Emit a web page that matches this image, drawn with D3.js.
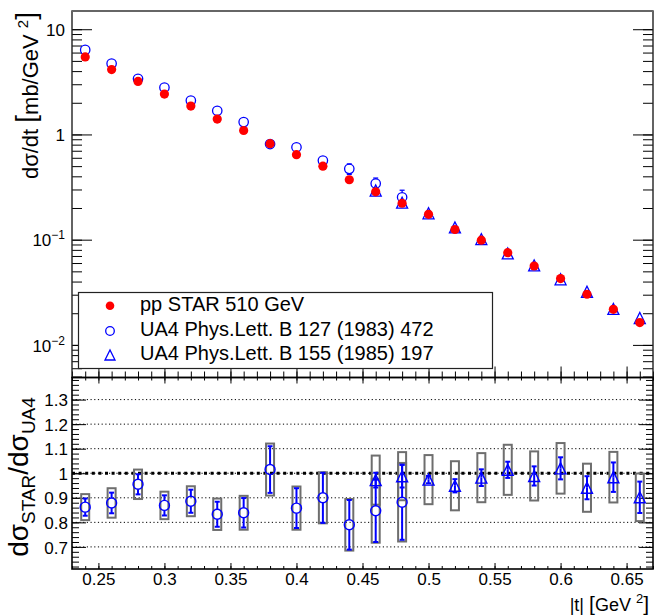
<!DOCTYPE html>
<html lang="en">
<head>
  <meta charset="UTF-8">
  <title>dsigma/dt STAR vs UA4</title>
  <script src="https://cdn.jsdelivr.net/npm/d3@7"></script>
  <style>
    body { margin: 0; background: #fff; }
  </style>
</head>
<body>
  <div id="canvas"></div>
  <script>
    // STAR pp 510 GeV, dsigma/dt [mb/GeV^2]
    const tStar = [0.24, 0.26, 0.28, 0.30, 0.32, 0.34, 0.36, 0.38, 0.40, 0.42, 0.44,
                   0.46, 0.48, 0.50, 0.52, 0.54, 0.56, 0.58, 0.60, 0.62, 0.64, 0.66];
    const starXsec = [5.46, 4.14, 3.19, 2.42, 1.86, 1.40, 1.09, 0.818, 0.643, 0.499, 0.371,
                      0.285, 0.222, 0.174, 0.125, 0.099, 0.0753, 0.0562, 0.0427, 0.0303, 0.0218, 0.0163];

    // UA4 Phys.Lett. B 127 (1983) 472
    const tUA4a = [0.24, 0.26, 0.28, 0.30, 0.32, 0.34, 0.36, 0.38, 0.40, 0.42, 0.44, 0.46, 0.48];
    const ua4aXsec = [6.36, 4.72, 3.38, 2.79, 2.10, 1.68, 1.31, 0.81, 0.755, 0.565, 0.471, 0.342, 0.253];
    const ua4aErr = [0.2, 0.19, 0.14, 0.11, 0.09, 0.08, 0.08, 0.07, 0.07, 0.057, 0.054, 0.043, 0.042];

    // UA4 Phys.Lett. B 155 (1985) 197
    const tUA4b = [0.46, 0.48, 0.50, 0.52, 0.54, 0.56, 0.58, 0.60, 0.62, 0.64, 0.66];
    const ua4bXsec = [0.293, 0.225, 0.178, 0.131, 0.101, 0.074, 0.057, 0.042, 0.032, 0.022, 0.018];
    const ua4bErr = [0.008, 0.009, 0.004, 0.004, 0.003, 0.002, 0.002, 0.0017, 0.0014, 0.0012, 0.0011];

    // ratio STAR / UA4 (stat error, syst box half height)
    const ratioA = [0.862, 0.879, 0.955, 0.869, 0.886, 0.833, 0.839, 1.015, 0.858, 0.900, 0.790, 0.847, 0.882];
    const ratioAStat = [0.035, 0.042, 0.041, 0.041, 0.047, 0.051, 0.060, 0.095, 0.081, 0.102, 0.101, 0.127, 0.153];
    const ratioASys = [0.053, 0.060, 0.060, 0.056, 0.061, 0.064, 0.069, 0.106, 0.088, 0.104, 0.105, 0.130, 0.160];
    const ratioB = [0.972, 0.988, 0.974, 0.949, 0.982, 1.014, 0.989, 1.020, 0.941, 0.984, 0.902];
    const ratioBStat = [0.030, 0.046, 0.015, 0.027, 0.034, 0.033, 0.039, 0.045, 0.047, 0.060, 0.064];
    const ratioBSys = [0.100, 0.098, 0.100, 0.100, 0.100, 0.102, 0.100, 0.103, 0.098, 0.103, 0.097];

    // ticks and labels
    const xMajor = [0.25, 0.30, 0.35, 0.40, 0.45, 0.50, 0.55, 0.60, 0.65];
    const xLabels = ['0.25', '0.3', '0.35', '0.4', '0.45', '0.5', '0.55', '0.6', '0.65'];
    const topYMajor = [0.01, 0.1, 1, 10];
    const topYLabels = [['10', '\u22122'], ['10', '\u22121'], ['1', ''], ['10', '']];
    const botYMajor = [0.7, 0.8, 0.9, 1.0, 1.1, 1.2, 1.3];
    const botYLabels = ['0.7', '0.8', '0.9', '1', '1.1', '1.2', '1.3'];
    const legendLabels = ['pp STAR 510 GeV', 'UA4 Phys.Lett. B 127 (1983) 472', 'UA4 Phys.Lett. B 155 (1985) 197'];

    const FONT = "'Liberation Sans', Arial, Helvetica, sans-serif";
    const RED = '#ff0000', BLUE = '#0000ff';
    const W = 664, H = 616;
    const xL = 72, xR = 653, yT = 11, yMid = 377.5, yB = 569;

    const x = d3.scaleLinear().domain([0.23, 0.67]).range([xL, xR]);
    const yTop = d3.scaleLog().domain([0.0049, 14.9]).range([yMid, yT]);
    const yBot = d3.scaleLinear().domain([0.61, 1.39]).range([yB, yMid]);

    const svg = d3.select('#canvas').append('svg')
      .attr('width', W).attr('height', H)
      .style('font-family', FONT);

    const xMinor = d3.range(23, 68).map(v => v / 100);
    const botYMinor = d3.range(62, 139, 2).map(v => v / 100);

    function axisG(axis, tx, ty) {
      const g = svg.append('g').attr('transform', 'translate(' + tx + ',' + ty + ')').call(axis);
      g.select('.domain').remove();
      g.attr('font-family', FONT).attr('font-size', 17);
      g.selectAll('line').attr('stroke', '#000').attr('stroke-width', 1);
      g.selectAll('text').attr('fill', '#000');
      return g;
    }

    // ---------- top panel axes ----------
    axisG(d3.axisLeft(yTop).tickValues(yTop.ticks()).tickSize(-10).tickFormat(''), xL, 0);
    const gTopY = axisG(d3.axisLeft(yTop).tickValues(topYMajor).tickSize(-20).tickPadding(7).tickFormat(''), xL, 0);
    gTopY.selectAll('text').each(function(d, i) {
      const t = d3.select(this).attr('dy', '0.36em');
      const lab = topYLabels[i];
      t.append('tspan').text(lab[0]);
      if (lab[1]) t.append('tspan').attr('dy', -7).attr('font-size', 12).text(lab[1]);
    });
    axisG(d3.axisRight(yTop).tickValues(yTop.ticks()).tickSize(-10).tickFormat(''), xR, 0);
    axisG(d3.axisRight(yTop).tickValues(topYMajor).tickSize(-20).tickFormat(''), xR, 0);
    axisG(d3.axisBottom(x).tickValues(xMinor).tickSize(-6).tickFormat(''), 0, yMid);
    axisG(d3.axisBottom(x).tickValues(xMajor).tickSize(-11).tickFormat(''), 0, yMid);

    // ---------- bottom panel axes ----------
    axisG(d3.axisLeft(yBot).tickValues(botYMinor).tickSize(-7).tickFormat(''), xL, 0);
    axisG(d3.axisLeft(yBot).tickValues(botYMajor).tickSize(-14).tickPadding(4)
      .tickFormat((d, i) => botYLabels[i]), xL, 0)
      .selectAll('text').attr('dy', '0.36em');
    axisG(d3.axisRight(yBot).tickValues(botYMinor).tickSize(-7).tickFormat(''), xR, 0);
    axisG(d3.axisRight(yBot).tickValues(botYMajor).tickSize(-14).tickFormat(''), xR, 0);
    axisG(d3.axisBottom(x).tickValues(xMinor).tickSize(-3).tickFormat(''), 0, yB);
    axisG(d3.axisBottom(x).tickValues(xMajor).tickSize(-6).tickPadding(4)
      .tickFormat((d, i) => xLabels[i]), 0, yB);
    axisG(d3.axisTop(x).tickValues(xMinor).tickSize(-3).tickFormat(''), 0, yMid);
    axisG(d3.axisTop(x).tickValues(xMajor).tickSize(-6).tickFormat(''), 0, yMid);

    // grid + reference line
    const grid = svg.append('g');
    grid.selectAll('line').data(botYMajor).enter().append('line')
      .attr('x1', xL).attr('x2', xR)
      .attr('y1', d => yBot(d)).attr('y2', d => yBot(d))
      .attr('stroke', '#000').attr('stroke-width', 1).attr('stroke-dasharray', '1.2,2.5');
    svg.append('line')
      .attr('x1', xL).attr('x2', xR).attr('y1', yBot(1)).attr('y2', yBot(1))
      .attr('stroke', '#000').attr('stroke-width', 3).attr('stroke-dasharray', '3,3.6');

    // frames
    svg.append('rect').attr('x', xL).attr('y', yT).attr('width', xR - xL).attr('height', yMid - yT)
      .attr('fill', 'none').attr('stroke', '#222').attr('stroke-width', 1.4);
    svg.append('line').attr('x1', xL).attr('x2', xR).attr('y1', yT).attr('y2', yT)
      .attr('stroke', '#666').attr('stroke-width', 2);
    svg.append('rect').attr('x', xL).attr('y', yMid).attr('width', xR - xL).attr('height', yB - yMid)
      .attr('fill', 'none').attr('stroke', '#000').attr('stroke-width', 1.6);

    // ---------- markers ----------
    function openCircle(g, cx, cy, r, sw) {
      g.append('circle').attr('cx', cx).attr('cy', cy).attr('r', r)
        .attr('fill', 'none').attr('stroke', BLUE).attr('stroke-width', sw);
    }
    function openTriangle(g, cx, cy, s, sw) {
      g.append('path')
        .attr('d', 'M' + (cx - s) + ',' + (cy + s) + 'L' + (cx + s) + ',' + (cy + s) + 'L' + cx + ',' + (cy - s) + 'Z')
        .attr('fill', 'none').attr('stroke', BLUE).attr('stroke-width', sw);
    }
    function redDot(g, cx, cy, r) {
      g.append('circle').attr('cx', cx).attr('cy', cy).attr('r', r).attr('fill', RED);
    }
    // root style error bar: not drawn inside the marker
    function errBar(g, cx, cy, yHi, yLo, gap, cap, sw) {
      const seg = (a, b) => g.append('line').attr('x1', cx).attr('x2', cx).attr('y1', a).attr('y2', b)
        .attr('stroke', BLUE).attr('stroke-width', sw);
      const capL = yy => g.append('line').attr('x1', cx - cap).attr('x2', cx + cap).attr('y1', yy).attr('y2', yy)
        .attr('stroke', BLUE).attr('stroke-width', sw);
      if (cy - yHi > gap) { seg(yHi, cy - gap); capL(yHi); }
      if (yLo - cy > gap) { seg(cy + gap, yLo); capL(yLo); }
    }

    const topG = svg.append('g');
    tUA4a.forEach((t, i) => {
      const cy = yTop(ua4aXsec[i]);
      errBar(topG, x(t), cy, yTop(ua4aXsec[i] + ua4aErr[i]), yTop(ua4aXsec[i] - ua4aErr[i]), 4.7, 2.5, 1.3);
      openCircle(topG, x(t), cy, 4.7, 1.3);
    });
    tUA4b.forEach((t, i) => {
      const cy = yTop(ua4bXsec[i]);
      errBar(topG, x(t), cy, yTop(ua4bXsec[i] + ua4bErr[i]), yTop(ua4bXsec[i] - ua4bErr[i]), 5.5, 2.5, 1.3);
      openTriangle(topG, x(t), cy, 5.5, 1.3);
    });
    tStar.forEach((t, i) => redDot(topG, x(t), yTop(starXsec[i]), 4.6));

    // ---------- ratio panel ----------
    const botG = svg.append('g');
    const boxHalf = 4;
    function sysBox(t, r, s) {
      botG.append('rect')
        .attr('x', x(t) - boxHalf).attr('width', 2 * boxHalf)
        .attr('y', yBot(r + s)).attr('height', yBot(r - s) - yBot(r + s))
        .attr('fill', 'none').attr('stroke', '#6e6e6e').attr('stroke-width', 2);
    }
    tUA4a.forEach((t, i) => sysBox(t, ratioA[i], ratioASys[i]));
    tUA4b.forEach((t, i) => sysBox(t, ratioB[i], ratioBSys[i]));
    tUA4a.forEach((t, i) => {
      const cy = yBot(ratioA[i]);
      errBar(botG, x(t), cy, yBot(ratioA[i] + ratioAStat[i]), yBot(ratioA[i] - ratioAStat[i]), 5, 2.5, 2);
      openCircle(botG, x(t), cy, 5, 1.4);
    });
    tUA4b.forEach((t, i) => {
      const cy = yBot(ratioB[i]);
      errBar(botG, x(t), cy, yBot(ratioB[i] + ratioBStat[i]), yBot(ratioB[i] - ratioBStat[i]), 0, 2.5, 2);
      openTriangle(botG, x(t), cy, 5.5, 1.4);
    });

    // ---------- legend ----------
    const leg = svg.append('g');
    leg.append('rect').attr('x', 78.5).attr('y', 292.5).attr('width', 414).attr('height', 76)
      .attr('fill', '#fff').attr('stroke', '#222').attr('stroke-width', 1.2);
    const rowY = [305.7, 331, 355];
    redDot(leg, 110, rowY[0], 4.3);
    openCircle(leg, 110, rowY[1], 4.3, 1.3);
    openTriangle(leg, 110, rowY[2], 5, 1.3);
    leg.selectAll('text').data(legendLabels).enter().append('text')
      .attr('x', 140).attr('y', (d, i) => rowY[i] + 5)
      .attr('font-size', 20).attr('fill', '#000').text(d => d);

    // ---------- titles ----------
    const yt = svg.append('text').attr('transform', 'translate(38,12) rotate(-90)')
      .attr('text-anchor', 'end').attr('font-size', 22).attr('fill', '#000');
    yt.append('tspan').text('d\u03c3/dt  ');
    yt.append('tspan').attr('font-size', 28).attr('font-weight', 300).attr('dy', -3).text('[');
    yt.append('tspan').attr('dy', 3).text('mb/GeV ');
    yt.append('tspan').attr('font-size', 15).attr('dy', -10).text('2');
    yt.append('tspan').attr('font-size', 28).attr('font-weight', 300).attr('dy', 7).text(']');

    const yb = svg.append('text').attr('transform', 'translate(28,477) rotate(-90)')
      .attr('text-anchor', 'middle').attr('font-size', 28).attr('fill', '#000');
    yb.append('tspan').text('d\u03c3');
    yb.append('tspan').attr('font-size', 19).attr('dy', 7).text('STAR');
    yb.append('tspan').attr('dy', -7).text('/d\u03c3');
    yb.append('tspan').attr('font-size', 19).attr('dy', 7).text('UA4');

    const xt = svg.append('text').attr('x', 649).attr('y', 611)
      .attr('text-anchor', 'end').attr('font-size', 18).attr('fill', '#000');
    xt.append('tspan').text('|t| ');
    xt.append('tspan').attr('font-size', 21).text('[');
    xt.append('tspan').text('GeV ');
    xt.append('tspan').attr('font-size', 13).attr('dy', -8).text('2');
    xt.append('tspan').attr('font-size', 21).attr('dy', 8).text(']');
  </script>
</body>
</html>
